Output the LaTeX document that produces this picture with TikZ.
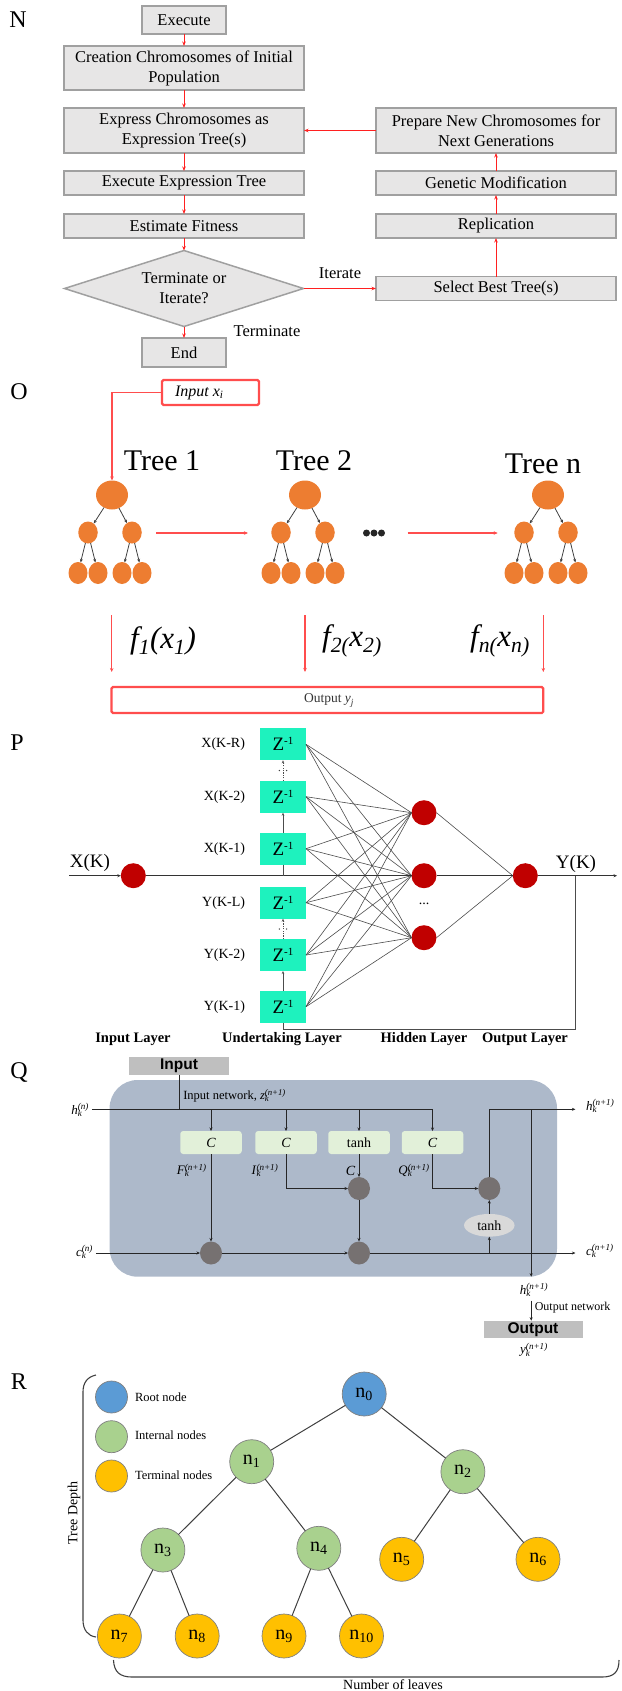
\documentclass[tikz,border=0pt]{standalone}
\usepackage{fontspec}
\setmainfont{Liberation Serif}
\newfontfamily\arialfont{Liberation Sans}
\usetikzlibrary{arrows.meta,shapes.geometric,calc}

\definecolor{boxgray}{HTML}{E7E6E6}
\definecolor{boxline}{HTML}{A0A0A0}
\definecolor{flowred}{HTML}{FF2020}
\definecolor{ored}{HTML}{FF4D4D}
\definecolor{treeorange}{HTML}{ED7D31}
\definecolor{zgreen}{HTML}{1EF2BE}
\definecolor{nodered}{HTML}{C00000}
\definecolor{cellblue}{HTML}{ADB9CA}
\definecolor{gategreen}{HTML}{E2F0D9}
\definecolor{mulgray}{HTML}{767171}
\definecolor{tanhgray}{HTML}{D9D9D9}
\definecolor{iogray}{HTML}{BFBFBF}
\definecolor{rootblue}{HTML}{5B9BD5}
\definecolor{intgreen}{HTML}{A9D18E}
\definecolor{termyellow}{HTML}{FFC000}

\newcommand{\fsz}[2]{\fontsize{#1}{#2}\selectfont}
\newcommand{\sbsp}[3]{\textit{#1}\rlap{\textsubscript{\textit{#2}}}\textsuperscript{\textit{#3}}}

% small orange expression tree: #1 name prefix, #2 x of the root
\newcommand{\gtree}[2]{%
  \begin{scope}[shift={(#2,0)}]
    \node[troot] (#1r) at (0,495) {};
    \node[tmid]  (#1a) at (-24,532.5) {};
    \node[tmid]  (#1b) at (20,532.5) {};
    \node[tleaf] (#1c) at (-34,573) {};
    \node[tleaf] (#1d) at (-14,573) {};
    \node[tleaf] (#1e) at (10,573) {};
    \node[tleaf] (#1f) at (30,573) {};
    \draw[tarrow] (#1r) -- (#1a);
    \draw[tarrow] (#1r) -- (#1b);
    \draw[tarrow] (#1a) -- (#1c);
    \draw[tarrow] (#1a) -- (#1d);
    \draw[tarrow] (#1b) -- (#1e);
    \draw[tarrow] (#1b) -- (#1f);
  \end{scope}}

\tikzset{
  letter/.style={font=\fsz{24}{28}},
  flowbox/.style={draw=boxline, line width=1.5pt, fill=boxgray, font=\fsz{16.5}{20}, align=center},
  flowdiamond/.style={diamond, aspect=3.14, draw=boxline, line width=1.5pt, fill=boxgray, font=\fsz{16.5}{20},
    align=center, minimum width=239pt, minimum height=76pt},
  flowtext/.style={font=\fsz{16.5}{20}},
  flowarrow/.style={draw=flowred, line width=0.9pt, -{Stealth[length=4.5pt,width=3.5pt]}},
  oline/.style={draw=ored, line width=1.5pt},
  oarrow/.style={oline, -{Stealth[length=4pt,width=3.5pt]}},
  obox/.style={draw=ored, line width=2.2pt, rounded corners=1.5pt},
  troot/.style={ellipse, fill=treeorange, minimum width=32pt, minimum height=29pt},
  tmid/.style={ellipse, fill=treeorange, minimum width=19.5pt, minimum height=22pt},
  tleaf/.style={ellipse, fill=treeorange, minimum width=19pt, minimum height=22pt},
  tarrow/.style={draw=black!75, line width=0.8pt, -{Stealth[length=3.5pt,width=3pt]}},
  treelabel/.style={font=\fsz{30}{34}},
  flab/.style={font=\fsz{31}{34}\itshape},
  odot/.style={circle, fill=black!85, minimum size=7pt},
  zbox/.style={fill=zgreen, minimum width=46pt, minimum height=32pt, font=\fsz{19}{20}},
  zlab/.style={font=\fsz{14}{16}},
  nnode/.style={circle, fill=nodered, minimum size=25pt},
  pline/.style={draw=black!70, line width=0.6pt},
  mline/.style={draw=black!80, line width=0.8pt},
  parrow/.style={pline, -{Stealth[length=3pt,width=2.5pt]}},
  layer/.style={font=\fsz{14.5}{16}\bfseries},
  cellrect/.style={fill=cellblue, rounded corners=28pt, minimum width=447.4pt, minimum height=196.7pt},
  gate/.style={fill=gategreen, rounded corners=3pt, minimum width=61.5pt, minimum height=23pt, font=\fsz{14}{16}},
  mult/.style={ellipse, fill=mulgray, minimum width=22pt, minimum height=23pt},
  iobox/.style={fill=iogray, font=\arialfont\bfseries\fsz{15.5}{17}},
  qlab/.style={font=\fsz{13}{15}},
  qline/.style={draw=black!85, line width=0.9pt},
  qarrow/.style={qline, -{Stealth[length=3.5pt,width=3pt]}},
  rnode/.style={circle, draw=black!50, line width=0.7pt, minimum size=44pt, font=\fsz{20}{22}},
  legnode/.style={circle, draw=black!50, line width=0.7pt, minimum size=32pt},
  legtext/.style={font=\fsz{12.5}{14}, anchor=west},
  redge/.style={draw=black!75, line width=1pt},
  brace/.style={draw=black!75, line width=1.1pt},
}

\begin{document}
\begin{tikzpicture}[x=1pt,y=-1pt, every node/.style={inner sep=0pt,outer sep=0pt}, font=\fsz{13}{15.6}]
\useasboundingbox (0,0) rectangle (621,1691);

% ================= N : gene expression programming flowchart =================
\node[letter] (labN) at (18,20) {N};
\node[flowbox, minimum width=84pt, minimum height=28pt] (exe) at (184,20) {Execute};
\node[flowbox, minimum width=240pt, minimum height=44pt] (create) at (184,68) {Creation Chromosomes of Initial\\Population};
\node[flowbox, minimum width=240pt, minimum height=45pt] (express) at (184,130.5) {Express Chromosomes as\\Expression Tree(s)};
\node[flowbox, minimum width=240pt, minimum height=24pt] (exetree) at (184,183) {Execute Expression Tree};
\node[flowbox, minimum width=240pt, minimum height=24pt] (fitness) at (184,226) {Estimate Fitness};
\node[flowdiamond] (decide) at (184,288.5) {Terminate or\\Iterate?};
\node[flowbox, minimum width=84pt, minimum height=29pt] (finish) at (184,352.5) {End};
\node[flowbox, minimum width=240pt, minimum height=45pt] (prepare) at (496,130.5) {Prepare New Chromosomes for\\Next Generations};
\node[flowbox, minimum width=240pt, minimum height=24pt] (genetic) at (496,183) {Genetic Modification};
\node[flowbox, minimum width=240pt, minimum height=24pt] (replic) at (496,226) {Replication};
\node[flowbox, minimum width=240pt, minimum height=24pt] (select) at (496,288.5) {Select Best Tree(s)};
\node[flowtext] (lbliter) at (340,273) {Iterate};
\node[flowtext] (lblterm) at (267,331) {Terminate};

\draw[flowarrow] (exe.south) -- (create.north);
\draw[flowarrow] (create.south) -- (express.north);
\draw[flowarrow] (express.south) -- (exetree.north);
\draw[flowarrow] (exetree.south) -- (fitness.north);
\draw[flowarrow] (fitness.south) -- (decide.north);
\draw[flowarrow] (decide.south) -- (finish.north);
\draw[flowarrow] (decide.east) -- (select.west);
\draw[flowarrow] (select.north) -- (replic.south);
\draw[flowarrow] (replic.north) -- (genetic.south);
\draw[flowarrow] (genetic.north) -- (prepare.south);
\draw[flowarrow] (prepare.west) -- (express.east);

% ================= O : boosted expression trees =================
\node[letter] (labO) at (19,392) {O};
\node[obox, minimum width=97pt, minimum height=25pt] (inx) at (210.5,392.5) {};
\node[font=\fsz{16}{18}\itshape, anchor=west] (inxt) at (175,392.5) {Input x\textsubscript{i}};
\node[treelabel] (tl1) at (162,461) {Tree 1};
\node[treelabel] (tl2) at (314,461) {Tree 2};
\node[treelabel] (tln) at (543,464) {Tree n};
\gtree{ta}{112}
\gtree{tb}{305}
\gtree{tc}{548}
\draw[oarrow] (inx.west) -| (tar.north);

\coordinate (s1) at (156,533);
\coordinate (e1) at (248,533);
\coordinate (s2) at (407.6,533);
\coordinate (e2) at (497.7,533);
\draw[oarrow] (s1) -- (e1);
\draw[oarrow] (s2) -- (e2);
\node[odot] (d1) at (366.5,533) {};
\node[odot] (d2) at (374,533) {};
\node[odot] (d3) at (381.5,533) {};

\node[flab] (f1) at (163,641) {f\textsubscript{1}(x\textsubscript{1})};
\node[flab] (f2) at (352,641) {f\textsubscript{2(}x\textsubscript{2)}};
\node[flab] (fn) at (500,641) {f\textsubscript{n(}x\textsubscript{n)}};

\coordinate (da1) at (111.7,615);
\coordinate (db1) at (111.7,672);
\coordinate (da2) at (305,615);
\coordinate (db2) at (305,672);
\coordinate (da3) at (543.3,615);
\coordinate (db3) at (543.3,672);
\draw[oarrow] (da1) -- (db1);
\draw[oarrow] (da2) -- (db2);
\draw[oarrow] (da3) -- (db3);

\node[obox, minimum width=431.8pt, minimum height=26pt] (outy) at (327.4,700) {};
\node[font=\fsz{13.5}{15}, text=black!80] (outyt) at (329,700.5) {Output \textit{y\textsubscript{j}}};

% ================= P : NARX neural network =================
\node[letter] (labP) at (17,743) {P};
\foreach \n/\y/\t in {1/744.3/{X(K-R)}, 2/796.7/{X(K-2)}, 3/848.7/{X(K-1)}, 4/902.7/{Y(K-L)}, 5/955/{Y(K-2)}, 6/1006.7/{Y(K-1)}} {
  \node[zbox] (z\n) at (283,\y) {Z\raisebox{6pt}{\fsz{11}{11}-1}};
  \node[zlab, anchor=east] (zl\n) at (245,\y) {\t};
}
\node[nnode] (inp) at (133.3,875.7) {};
\node[nnode] (hid1) at (424,812.7) {};
\node[nnode] (hid2) at (424,875.7) {};
\node[nnode] (hid3) at (424,937.7) {};
\node[nnode] (outn) at (525.3,875.7) {};
\node[font=\fsz{14}{14}] (hdots) at (424,904) {...};
\node[font=\fsz{19}{21}] (lblx) at (90,863) {X(K)};
\node[font=\fsz{19}{21}] (lbly) at (576,864) {Y(K)};
\coordinate (xin) at (69,875.7);
\coordinate (yout) at (617,875.7);
\coordinate (fbr) at (575.4,875.7);

\foreach \z in {1,...,6} {
  \foreach \h in {1,2,3} {
    \draw[pline] (z\z.east) -- (hid\h.west);
  }
}
\foreach \h in {1,2,3} {
  \draw[pline] (hid\h.east) -- (outn.west);
}
\draw[mline, -{Stealth[length=3.5pt,width=3pt]}] (xin) -- (inp.west);
\draw[mline] (inp.east) -- (hid2.west);
\draw[mline] (hid2.east) -- (outn.west);
\draw[mline, -{Stealth[length=3.5pt,width=3pt]}] (outn.east) -- (yout);
\draw[pline] (z3.south) -- (z3.south |- inp);
\draw[parrow] (z3.north) -- (z2.south);
\draw[parrow] (z6.north) -- (z5.south);
\draw[parrow, dash pattern=on 1.2pt off 1.2pt] (z2.north) -- (z1.south);
\draw[parrow, dash pattern=on 1.2pt off 1.2pt] (z5.north) -- (z4.south);
\fill[black!75] (279.3,770.5) circle (0.75) (286.7,770.5) circle (0.75);
\fill[black!75] (279.3,929) circle (0.75) (286.7,929) circle (0.75);
\draw[pline] (z6.south) -- ++(0,6.6) -| (fbr);

\node[layer] (ly1) at (133,1039) {Input Layer};
\node[layer] (ly2) at (282,1039) {Undertaking Layer};
\node[layer] (ly3) at (424,1039) {Hidden Layer};
\node[layer] (ly4) at (525,1039) {Output Layer};

% ================= Q : LSTM cell =================
\node[letter] (labQ) at (19,1072) {Q};
\node[cellrect] (cell) at (333.3,1178.35) {};
\node[iobox, minimum width=99.5pt, minimum height=18pt] (qin) at (179,1066) {Input};
\node[gate] (g1) at (211,1142.5) {\textit{C}};
\node[gate] (g2) at (286,1142.5) {\textit{C}};
\node[gate] (g3) at (359,1142.5) {tanh};
\node[gate] (g4) at (432.5,1142.5) {\textit{C}};
\node[mult] (m1) at (211,1253) {};
\node[mult] (m2) at (359,1188.5) {};
\node[mult] (m3) at (359,1253) {};
\node[mult] (m4) at (489.3,1188.5) {};
\node[ellipse, fill=tanhgray, minimum width=50.5pt, minimum height=22.7pt, font=\fsz{14}{16}] (th) at (489.3,1225.3) {tanh};

\coordinate (hin) at (91.8,1109.3);
\coordinate (cin) at (95.8,1253);
\coordinate (hout) at (575.4,1109.3);
\coordinate (cout) at (575.4,1253);
\coordinate (obr) at (531.2,1109.3);
\coordinate (obe) at (531.2,1276.7);

\draw[qline] (hin) -- (g4.north |- hin);
\draw[qline] (qin.south) -- (qin.south |- hin);
\foreach \g in {1,2,3,4} {
  \draw[qarrow] (g\g.north |- hin) -- (g\g.north);
}
\draw[qarrow] (g1.south) -- (m1.north);
\draw[qarrow] (g2.south) |- (m2.west);
\draw[qarrow] (g3.south) -- (m2.north);
\draw[qarrow] (m2.south) -- (m3.north);
\draw[qarrow] (g4.south) |- (m4.west);
\draw[qarrow] (cin) -- (m1.west);
\draw[qarrow] (m1.east) -- (m3.west);
\draw[qarrow] (m3.east) -- (cout);
\draw[qarrow] (th.south |- cout) -- (th.south);
\draw[qarrow] (th.north) -- (m4.south);
\draw[qarrow] (m4.north) |- (hout);
\draw[qarrow] (obr) -- (obe);

\node[qlab, anchor=east] (lhin) at (89,1110) {\sbsp{h}{k}{(n)}};
\node[qlab, anchor=east] (lcin) at (93,1252) {\sbsp{c}{k}{(n)}};
\node[qlab, anchor=west] (lhout) at (586,1106) {\sbsp{h}{k}{(n+1)}};
\node[qlab, anchor=west] (lcout) at (586,1251) {\sbsp{c}{k}{(n+1)}};
\node[font=\fsz{12.5}{14}, anchor=west] (lzin) at (183.3,1095.5) {Input network, \sbsp{z}{k}{(n+1)}};
\node[qlab] (lf) at (191.7,1170.5) {\sbsp{F}{k}{(n+1)}};
\node[qlab] (li) at (265,1170.5) {\sbsp{I}{k}{(n+1)}};
\node[font=\fsz{14}{16}\itshape] (lc) at (350.5,1171) {C};
\node[qlab] (lq) at (414,1170.5) {\sbsp{Q}{k}{(n+1)}};
\node[qlab] (lhb) at (534,1290) {\sbsp{h}{k}{(n+1)}};
\node[iobox, minimum width=99pt, minimum height=17.6pt] (qout) at (533,1329.5) {Output};
\node[qlab] (lyk) at (534,1350) {\sbsp{y}{k}{(n+1)}};
\node[font=\fsz{12}{14}, anchor=west] (lon) at (534.8,1307.7) {Output network};
\coordinate (ons) at (531.2,1300.7);
\draw[qarrow] (ons) -- (ons |- qout.north);

% ================= R : expression tree anatomy =================
\node[letter] (labR) at (19,1382) {R};
\node[legnode, fill=rootblue] (lg0) at (111.5,1397) {};
\node[legnode, fill=intgreen] (lg1) at (111.5,1436.7) {};
\node[legnode, fill=termyellow] (lg2) at (111.5,1476) {};
\node[legtext] (lt0) at (135,1397) {Root node};
\node[legtext] (lt1) at (135,1435.5) {Internal nodes};
\node[legtext] (lt2) at (135,1475) {Terminal nodes};

\node[rnode, fill=rootblue] (n0) at (364.2,1394) {n\textsubscript{0}};
\node[rnode, fill=intgreen] (n1) at (251.7,1461.7) {n\textsubscript{1}};
\node[rnode, fill=intgreen] (n2) at (462.9,1471.7) {n\textsubscript{2}};
\node[rnode, fill=intgreen] (n3) at (162.9,1550) {n\textsubscript{3}};
\node[rnode, fill=intgreen] (n4) at (318.8,1548.3) {n\textsubscript{4}};
\node[rnode, fill=termyellow] (n5) at (401.7,1559.3) {n\textsubscript{5}};
\node[rnode, fill=termyellow] (n6) at (538,1559.3) {n\textsubscript{6}};
\node[rnode, fill=termyellow] (n7) at (119.4,1636) {n\textsubscript{7}};
\node[rnode, fill=termyellow] (n8) at (197.2,1636) {n\textsubscript{8}};
\node[rnode, fill=termyellow] (n9) at (284,1636) {n\textsubscript{9}};
\node[rnode, fill=termyellow] (n10) at (361.5,1636) {n\textsubscript{10}};

\draw[redge] (n0) -- (n1);
\draw[redge] (n0) -- (n2);
\draw[redge] (n1) -- (n3);
\draw[redge] (n1) -- (n4);
\draw[redge] (n2) -- (n5);
\draw[redge] (n2) -- (n6);
\draw[redge] (n3) -- (n7);
\draw[redge] (n3) -- (n8);
\draw[redge] (n4) -- (n9);
\draw[redge] (n4) -- (n10);

\draw[brace] (96,1375) .. controls (87,1377) and (83,1383) .. (83,1392) -- (83,1620) .. controls (83,1630) and (88,1636) .. (96,1637);
\node[rotate=90, font=\fsz{14}{16}] (tdepth) at (74,1513) {Tree Depth};
\draw[brace] (113.5,1660) .. controls (114,1672) and (120,1677) .. (132,1677) -- (602,1677) .. controls (614,1677) and (619,1672) .. (619,1660);
\node[font=\fsz{14}{16}, anchor=base] (nleaves) at (393,1689) {Number of leaves};

\end{tikzpicture}
\end{document}
